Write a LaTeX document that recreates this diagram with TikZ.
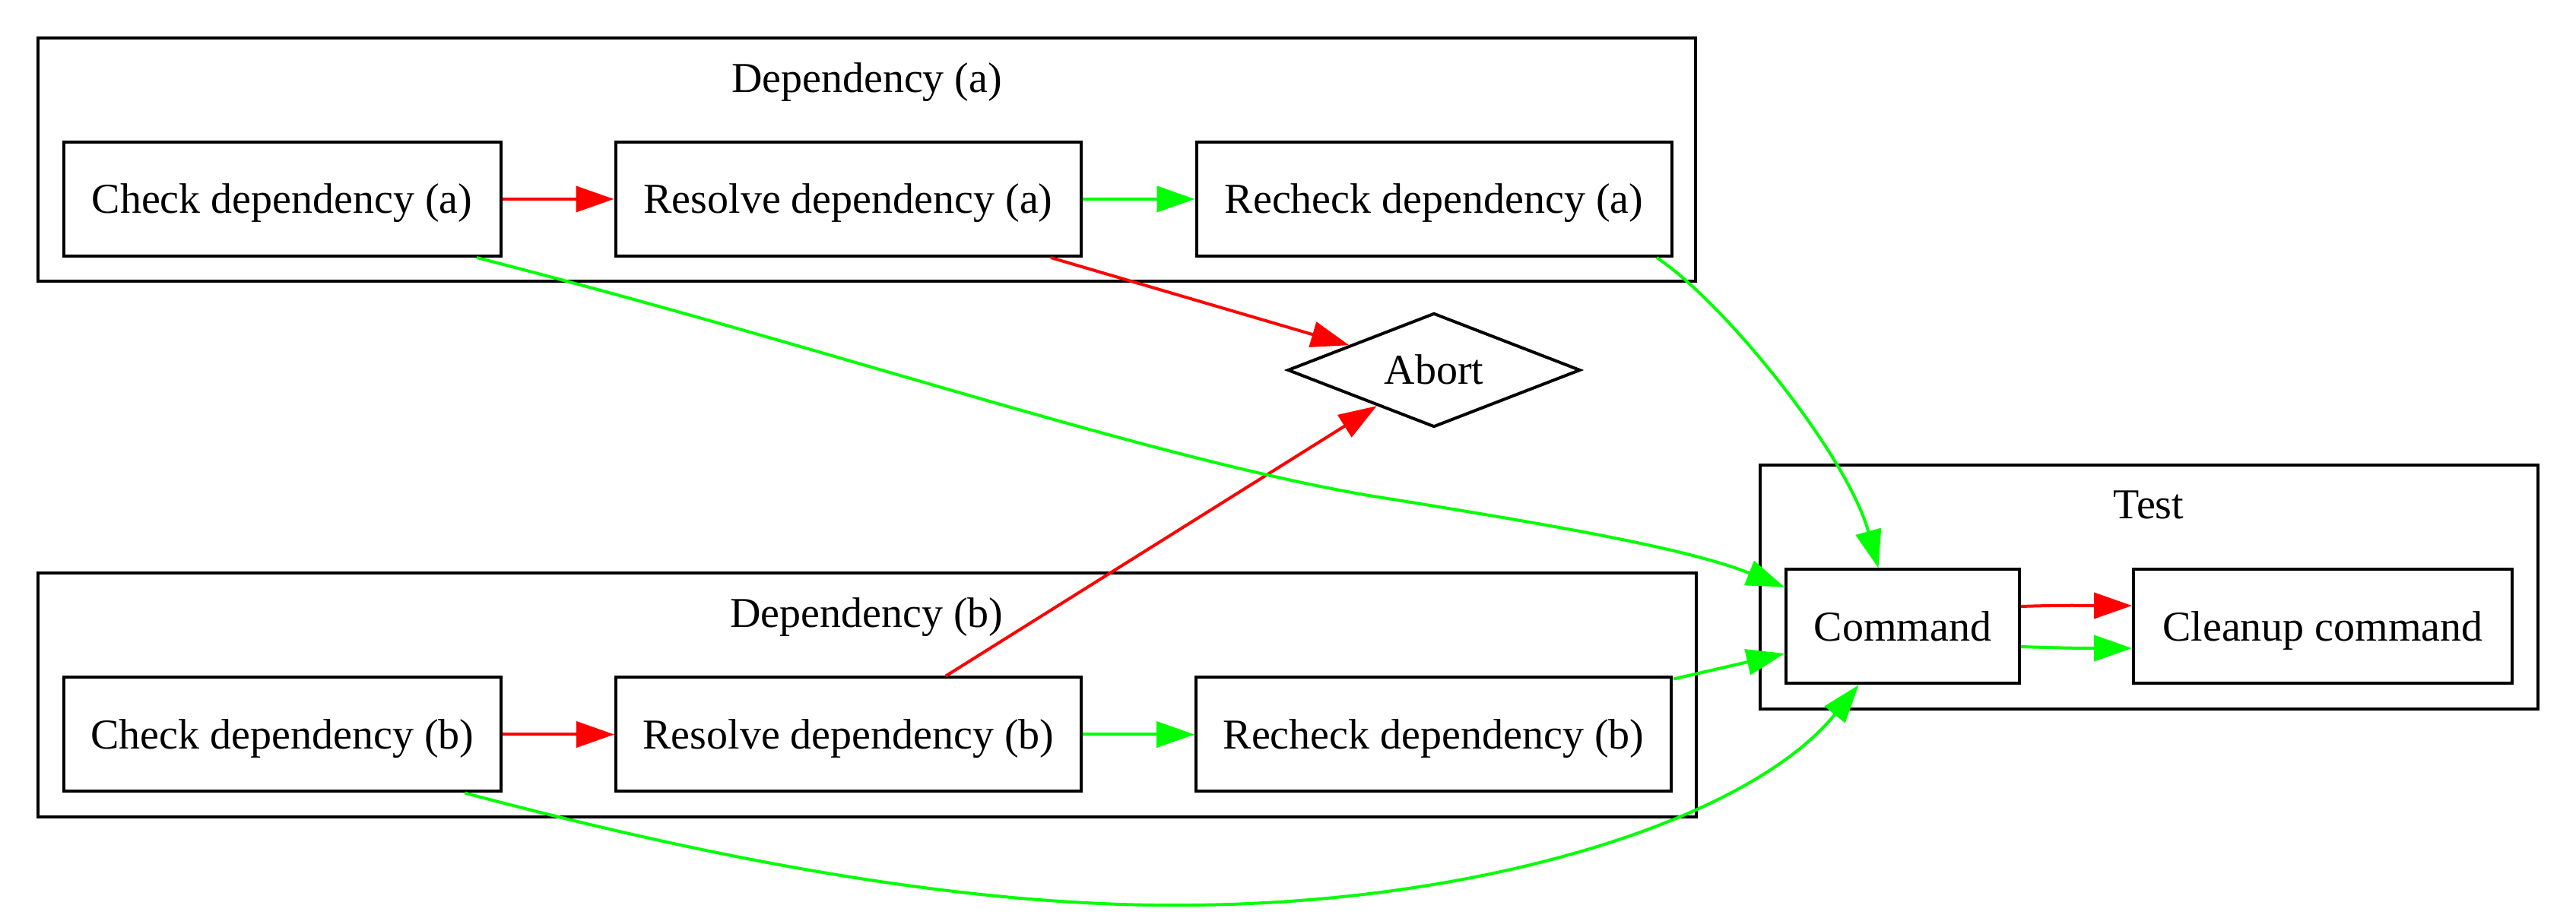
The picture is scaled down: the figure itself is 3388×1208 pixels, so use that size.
\documentclass[tikz,border=0pt]{standalone}
\usepackage{fontspec}
\setmainfont{Liberation Serif}
\usetikzlibrary{arrows.meta,calc,shapes.geometric}
\definecolor{gvgreen}{RGB}{0,255,0}
\definecolor{gvred}{RGB}{255,0,0}
\tikzset{
  gvfont/.style={font=\fontsize{14}{16}\selectfont},
  box/.style={draw, line width=1pt, rectangle, minimum height=37.5pt, inner sep=0pt,
              text height=10pt, text depth=0.5pt, gvfont},
  abortbox/.style={draw, line width=1pt, diamond, aspect=2.5, minimum width=96.25pt, minimum height=37.5pt,
              inner sep=0pt, text height=10pt, text depth=0.5pt, gvfont},
  cluster/.style={draw, line width=1pt},
  clabel/.style={anchor=base, inner sep=0pt, gvfont},
  gvtip/.style={-{Triangle[length=12.5pt,width=8.5pt]}},
  redge/.style={color=gvred, line width=1pt, gvtip},
  gedge/.style={color=gvgreen, line width=1pt, gvtip}
}
\begin{document}
\begin{tikzpicture}[x=0.25pt, y=-0.25pt]
\useasboundingbox (0,0) rectangle (3388,1208);

% clusters
\draw[cluster] (50,50) rectangle (2230,370);
\node[clabel] (labela) at (1140,122) {Dependency (a)};
\draw[cluster] (50,754) rectangle (2231,1075);
\node[clabel] (labelb) at (1140,826) {Dependency (b)};
\draw[cluster] (2315,612) rectangle (3338,933);
\node[clabel] (labeltest) at (2826,683) {Test};

% nodes
\node[box, minimum width=143.75pt] (checka)   at (371,262)    {Check dependency (a)};
\node[box, minimum width=153pt]    (resolvea) at (1115.5,262) {Resolve dependency (a)};
\node[box, minimum width=156.25pt] (rechecka) at (1886,262)   {Recheck dependency (a)};
\node[abortbox] (abort) at (1886,487) {Abort};
\node[box, minimum width=143.75pt] (checkb)   at (371.5,966.5)  {Check dependency (b)};
\node[box, minimum width=153pt]    (resolveb) at (1116,966.5)   {Resolve dependency (b)};
\node[box, minimum width=156.25pt] (recheckb) at (1885.5,966.5) {Recheck dependency (b)};
\node[box, minimum width=76.75pt]  (command)  at (2502.5,824.5) {Command};
\node[box, minimum width=124.5pt]  (cleanup)  at (3055,824.5)   {Cleanup command};

% edges in cluster a
\draw[redge] (checka.east) -- (resolvea.west);
\draw[gedge] (resolvea.east) -- (rechecka.west);
% edges in cluster b
\draw[redge] (checkb.east) -- (resolveb.west);
\draw[gedge] (resolveb.east) -- (recheckb.west);

% to abort
\draw[redge] ($(resolvea.south)+(266.5,0)$) -- (abort);
\draw[redge] ($(resolveb.north)+(128,0)$) -- (abort);

% to command
\draw[gedge] ($(checka.south)+(256,0)$) .. controls (1100,460) and (1500,600) .. (1800,652)
   .. controls (2050,692) and (2220,722) .. ($(command.west)+(0,-52)$);
\draw[gedge] ($(rechecka.south)+(293,0)$) .. controls (2270,400) and (2430,600) .. ($(command.north)+(-32,0)$);
\draw[gedge] ($(recheckb.north east)+(1,4)$) -- ($(command.west)+(0,35.5)$);
\draw[gedge] ($(checkb.south)+(240,0)$) .. controls (900,1120) and (1250,1195) .. (1567,1191)
   .. controls (1950,1188) and (2300,1080) .. ($(command.south)+(-58,0)$);

% command to cleanup
\draw[redge] ($(command.east)+(0,-26.5)$) .. controls +(60,-2) and +(-60,0) .. ($(cleanup.west)+(0,-27.5)$);
\draw[gedge] ($(command.east)+(0,26.5)$) .. controls +(60,2) and +(-60,0) .. ($(cleanup.west)+(0,28.5)$);
\end{tikzpicture}
\end{document}
